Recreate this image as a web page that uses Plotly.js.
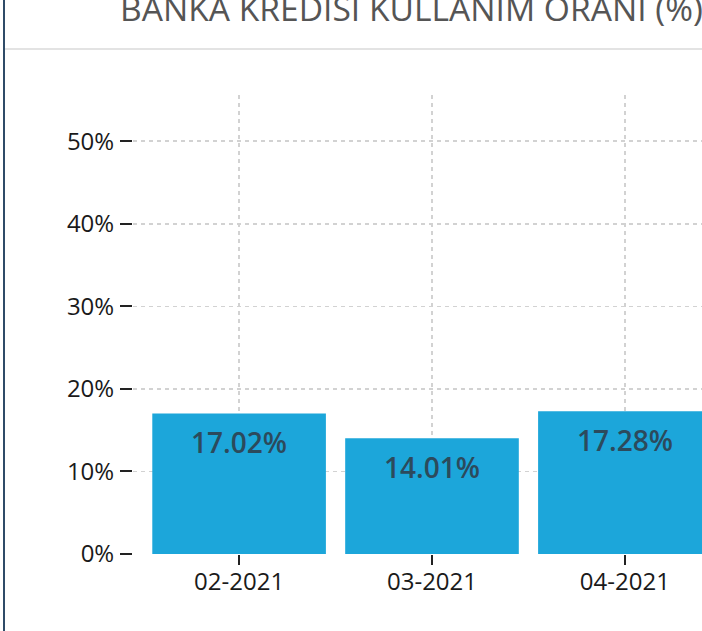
<!DOCTYPE html>
<html>
<head>
<meta charset="utf-8">
<script src="https://cdn.plot.ly/plotly-3.0.1.min.js"></script>
<style>
  html, body { margin: 0; padding: 0; width: 702px; height: 631px; overflow: hidden; background: #fff; }
  #chart { position: absolute; left: 0; top: 0; width: 792px; height: 631px; }
  #border { position: absolute; left: 3px; top: 0; width: 2px; height: 631px; background: #2f4b68; z-index: 5; }
  #hline { position: absolute; left: 5px; top: 48px; width: 697px; height: 2px; background: #e3e3e3; z-index: 5; }
</style>
</head>
<body>
<div id="chart"></div>
<div id="border"></div>
<div id="hline"></div>
<script>
const titleText = 'BANKA KREDISI KULLANIM ORANI (%)';
const categories = ['02-2021', '03-2021', '04-2021'];
const usageRate = [17.02, 14.01, 17.28];
const valueLabels = ['17.02%', '14.01%', '17.28%'];
const yTickVals = [0, 10, 20, 30, 40, 50];
const yTickText = ['0%', '10%', '20%', '30%', '40%', '50%'];

const trace = {
  type: 'bar',
  x: categories,
  y: usageRate,
  width: 0.9,
  marker: { color: '#1ca6da' },
  hoverinfo: 'none'
};

const labelAnnotations = categories.map((c, i) => ({
  x: c,
  y: usageRate[i],
  xref: 'x',
  yref: 'y',
  text: valueLabels[i],
  showarrow: false,
  xanchor: 'center',
  yanchor: 'top',
  yshift: -8,
  font: { family: 'Open Sans', size: 28, color: '#2c4a5c', weight: 600 }
}));

const gridColor = '#d2d2d2';

const layout = {
  width: 792,
  height: 631,
  margin: { l: 133, r: 61, t: 95, b: 77 },
  paper_bgcolor: '#ffffff',
  plot_bgcolor: '#ffffff',
  font: { family: 'Open Sans', color: '#1a1a1a' },
  showlegend: false,
  title: {
    text: titleText,
    font: { family: 'Open Sans', size: 33.6, color: '#555555', weight: 400 },
    xref: 'container', x: 120 / 792, xanchor: 'left',
    yref: 'container', y: 0.985, yanchor: 'middle'
  },
  annotations: labelAnnotations,
  xaxis: {
    type: 'category',
    range: [-0.55, 2.55],
    showgrid: true,
    gridcolor: gridColor,
    griddash: '4px,4px',
    gridwidth: 1.5,
    ticks: 'outside',
    ticklen: 10,
    tickwidth: 2,
    tickcolor: '#222',
    tickfont: { size: 24, color: '#1a1a1a' },
    ticklabelstandoff: -4,
    showline: false,
    zeroline: false
  },
  yaxis: {
    range: [0, 55.6],
    tickvals: yTickVals,
    ticktext: yTickText,
    showgrid: true,
    gridcolor: gridColor,
    griddash: '4px,4px',
    gridwidth: 1.5,
    ticks: 'outside',
    ticklen: 12,
    tickwidth: 2,
    tickcolor: '#222',
    tickfont: { size: 24, color: '#1a1a1a' },
    ticklabelstandoff: 1,
    showline: false,
    zeroline: false
  }
};

Plotly.newPlot('chart', [trace], layout, { displayModeBar: false, staticPlot: true });
</script>
</body>
</html>
